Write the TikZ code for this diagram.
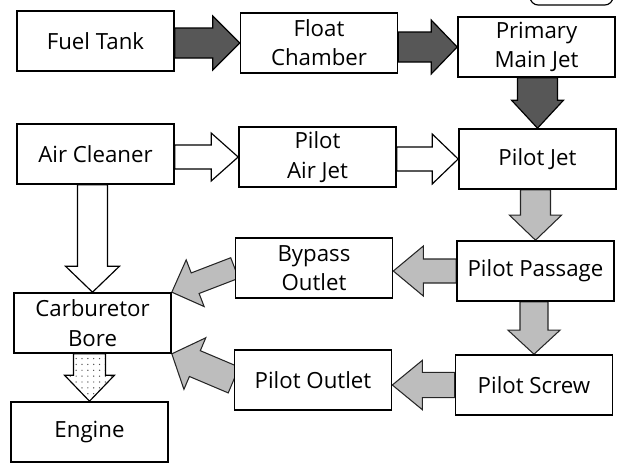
\documentclass[tikz,border=0pt]{standalone}
\usepackage{fontspec}
\setmainfont{Open Sans}
\usetikzlibrary{calc,backgrounds,patterns.meta}

\definecolor{fuelGray}{HTML}{575757}
\definecolor{pilotGray}{HTML}{BDBDBD}

\tikzset{
    % boxes of the flow chart
    part/.style={rectangle,draw=black,fill=white,line width=1.4pt,minimum width=4.71cm,minimum height=1.8cm,inner sep=2pt,align=center,font=\fontsize{19}{25}\selectfont},
    % fat arrows
    fuelflow/.style={draw=black,line width=1pt,fill=fuelGray},
    airflow/.style={draw=black,line width=1pt,fill=white},
    pilotflow/.style={draw=black!85,line width=0.9pt,fill=pilotGray},
    mixflow/.style={draw=black,line width=1pt,preaction={fill=white},pattern={Dots[distance=5pt,radius=0.6pt]},pattern color=black!70}
}

% fat arrow: [style]{from}{to}{half shaft}{half head}{head length}
\newcommand{\fatarrow}[6][]{%
  \draw[#1] ($(#2)!#4!90:(#3)$) -- ($(#3)!#6!(#2)!#4!90:(#3)$) -- ($(#3)!#6!(#2)!#5!90:(#3)$) -- (#3)
    -- ($(#3)!#6!(#2)!#5!-90:(#3)$) -- ($(#3)!#6!(#2)!#4!-90:(#3)$) -- ($(#2)!#4!-90:(#3)$) -- cycle;}

\begin{document}
\begin{tikzpicture}[x=0.03cm,y=-0.03cm,line join=miter]
  \useasboundingbox (0,0) rectangle (626,464);

  % piece of a box cut off at the top
  \begin{scope}
    \clip (0,0) rectangle (626,464);
    \draw[line width=1pt,rounded corners=7pt] (530,-30) rectangle (613,5);
  \end{scope}

  % fuel line
  \node[part] at (95.5,41) (fuel) {Fuel Tank};
  \node[part] at (319,43) (float) {Float\\Chamber};
  \node[part] at (536.5,47) (mainjet) {Primary\\Main Jet};

  % air line
  \node[part] at (95.5,154) (cleaner) {Air Cleaner};
  \node[part] at (317.5,157) (airjet) {Pilot\\Air Jet};
  \node[part] at (537.5,159) (pilotjet) {Pilot Jet};

  % pilot circuit
  \node[part] at (314,268) (bypass) {Bypass\\Outlet};
  \node[part] at (535.5,271) (passage) {Pilot Passage};
  \node[part] at (92.5,323) (bore) {Carburetor\\Bore};
  \node[part] at (313,380) (outlet) {Pilot Outlet};
  \node[part] at (534,385) (screw) {Pilot Screw};
  \node[part] at (89.5,432) (engine) {Engine};

  \begin{pgfonlayer}{background}
    % fuel
    \fatarrow[fuelflow]{fuel.east |- float.west}{float.west}{0.45cm}{0.81cm}{0.81cm}
    \fatarrow[fuelflow]{float.east |- mainjet.west}{mainjet.west}{0.45cm}{0.81cm}{0.78cm}
    \fatarrow[fuelflow]{pilotjet.north |- mainjet.south}{pilotjet.north}{0.6cm}{0.78cm}{0.84cm}
    % air
    \fatarrow[airflow]{cleaner.east |- airjet.west}{airjet.west}{0.36cm}{0.72cm}{0.81cm}
    \fatarrow[airflow]{airjet.east |- pilotjet.west}{pilotjet.west}{0.36cm}{0.75cm}{0.78cm}
    \fatarrow[airflow]{bore.north |- cleaner.south}{bore.north}{0.45cm}{0.81cm}{0.78cm}
    % pilot mixture
    \fatarrow[pilotflow]{passage.north |- pilotjet.south}{passage.north}{0.45cm}{0.78cm}{0.75cm}
    \fatarrow[pilotflow]{passage.west}{bypass.east |- passage.west}{0.36cm}{0.75cm}{0.9cm}
    \fatarrow[pilotflow]{screw.north |- passage.south}{screw.north}{0.42cm}{0.78cm}{0.72cm}
    \fatarrow[pilotflow]{screw.west}{outlet.east |- screw.west}{0.38cm}{0.74cm}{0.9cm}
    \fatarrow[pilotflow]{bypass.west}{bore.north east}{0.33cm}{0.75cm}{0.75cm}
    \fatarrow[pilotflow]{outlet.west}{bore.south east}{0.42cm}{0.84cm}{0.75cm}
    \fatarrow[mixflow]{engine.north |- bore.south}{engine.north}{0.48cm}{0.75cm}{0.78cm}
  \end{pgfonlayer}
\end{tikzpicture}
\end{document}
